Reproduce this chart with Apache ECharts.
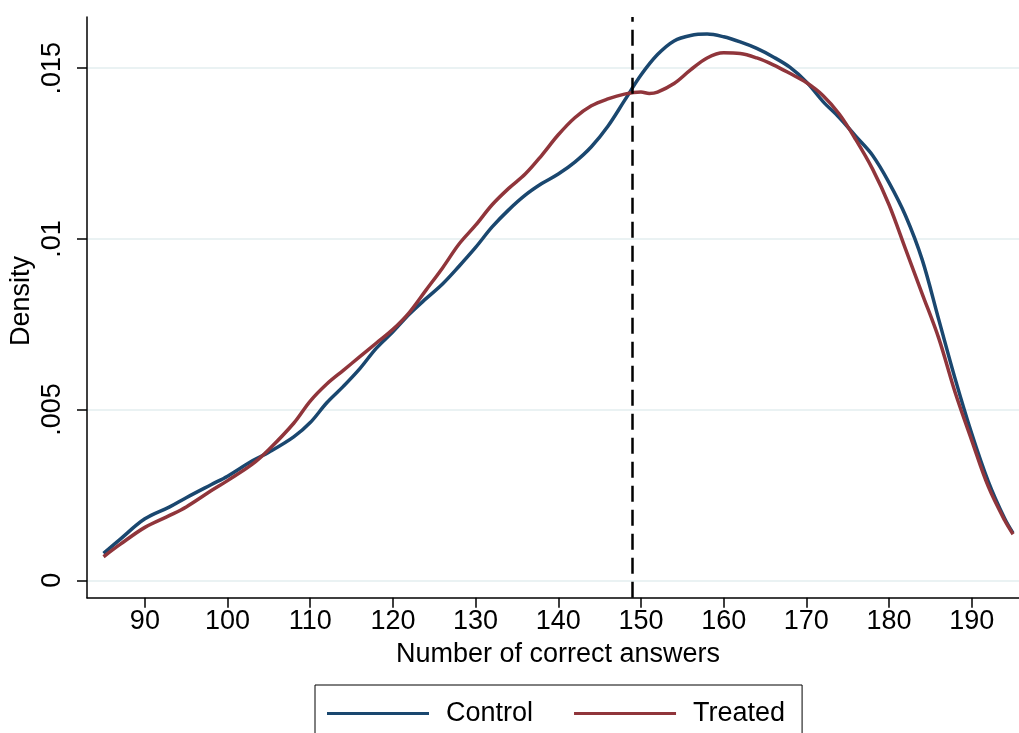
<!DOCTYPE html>
<html>
<head>
<meta charset="utf-8">
<script src="https://cdn.jsdelivr.net/npm/echarts@6/dist/echarts.min.js"></script>
<style>
html,body{margin:0;padding:0;background:#fff;}
#chart{width:1019px;height:733px;}
</style>
</head>
<body>
<div id="chart"></div>
<script>
const controlX = [85,87,90,93,95,98,100,103,105,108,110,112,114,116,118,120,122,124,126,128,130,132,134,136,138,140,142,144,146,148,150,152,154,156,158,160,162,164,166,168,170,172,174,176,178,180,182,184,186,188,190,192,194,195];
const controlY = [0.00079,0.00120,0.00180,0.00215,0.00242,0.00280,0.00305,0.00350,0.00375,0.00420,0.00462,0.00520,0.00568,0.00620,0.00680,0.00728,0.00780,0.00825,0.00868,0.00920,0.00975,0.01035,0.01085,0.01128,0.01162,0.01190,0.01225,0.01270,0.01330,0.01405,0.01480,0.01540,0.01580,0.01596,0.01600,0.01592,0.01577,0.01558,0.01533,0.01503,0.01460,0.01403,0.01355,0.01300,0.01245,0.01165,0.01068,0.00940,0.00765,0.00590,0.00430,0.00290,0.00180,0.00138];
const treatedX = [85,87,90,93,95,98,100,103,105,108,110,112,114,116,118,120,122,124,126,128,130,132,134,136,138,140,142,144,146,148,150,151,152,154,156,158,160,162,164,166,168,170,172,174,176,178,180,182,184,186,188,190,192,194,195];
const treatedY = [0.00069,0.00105,0.00155,0.00190,0.00215,0.00262,0.00292,0.00340,0.00383,0.00460,0.00525,0.00575,0.00615,0.00655,0.00695,0.00735,0.00785,0.00850,0.00915,0.00985,0.01040,0.01100,0.01148,0.01190,0.01245,0.01305,0.01355,0.01390,0.01410,0.01424,0.01430,0.01426,0.01430,0.01455,0.01495,0.01530,0.01545,0.01543,0.01530,0.01510,0.01485,0.01458,0.01420,0.01365,0.01290,0.01205,0.01100,0.00970,0.00840,0.00710,0.00550,0.00410,0.00275,0.00175,0.00135];
const xTicks = [90,100,110,120,130,140,150,160,170,180,190];
const yTicks = [0,0.005,0.01,0.015];
const yTickLabels = ['0','.005','.01','.015'];
const cutoff = 149;
const seriesNames = ['Control','Treated'];
const xTitle = 'Number of correct answers';
const yTitle = 'Density';

const FONT = 'Liberation Sans, Arial, Helvetica, sans-serif';
const FS = 27;
const chart = echarts.init(document.getElementById('chart'), null, {renderer:'canvas'});
const zip = (xs, ys) => xs.map((x,i)=>[x, ys[i]]);
chart.setOption({
  animation:false,
  backgroundColor:'#fff',
  grid:{left:87, top:17, width:932, height:580.7, containLabel:false},
  xAxis:{
    type:'value', min:83, max:195.72,
    axisLine:{show:true, onZero:false, lineStyle:{color:'#000', width:1.5}},
    axisTick:{show:true, length:10, customValues:xTicks, lineStyle:{color:'#000', width:1.5}},
    axisLabel:{customValues:xTicks, margin:10, fontSize:FS, color:'#000', fontFamily:FONT},
    splitLine:{show:false}
  },
  yAxis:{
    type:'value', min:-0.00051, max:0.0165,
    axisLine:{show:true, onZero:false, lineStyle:{color:'#000', width:1.5}},
    axisTick:{show:true, length:10, customValues:yTicks, lineStyle:{color:'#000', width:1.5}},
    axisLabel:{customValues:yTicks, rotate:90, margin:21, fontSize:FS, color:'#000', fontFamily:FONT,
      formatter:(v)=>{const i=yTicks.findIndex(t=>Math.abs(t-v)<1e-9); return i>=0?yTickLabels[i]:'';}},
    splitLine:{show:true, lineStyle:{color:'#eaf2f3', width:2}}
  },
  legend:{
    left:315, top:685,
    data:seriesNames,
    icon:'rect', itemWidth:102, itemHeight:3, itemGap:41,
    padding:[15,17,30,12],
    borderColor:'#000', borderWidth:1, borderRadius:0,
    textStyle:{fontSize:FS, color:'#000', fontFamily:FONT, padding:[0,0,0,12]}
  },
  graphic:[
    {type:'text', x:558, y:655, style:{text:xTitle, fontSize:FS, fill:'#000', fontFamily:FONT, textAlign:'center', textVerticalAlign:'middle'}},
    {type:'text', x:22, y:301, rotation:Math.PI/2, style:{text:yTitle, fontSize:FS, fill:'#000', fontFamily:FONT, textAlign:'center', textVerticalAlign:'middle'}}
  ],
  series:[
    {name:seriesNames[0], type:'line', data:zip(controlX, controlY), showSymbol:false, smooth:0.35,
      lineStyle:{color:'#1a476f', width:3.5}, itemStyle:{color:'#1a476f'}, z:3,
      markLine:{silent:true, symbol:'none', label:{show:false},
        lineStyle:{color:'#000', width:2.5, type:[16,8]}, data:[{xAxis:cutoff}]}},
    {name:seriesNames[1], type:'line', data:zip(treatedX, treatedY), showSymbol:false, smooth:0.35,
      lineStyle:{color:'#90353b', width:3.5}, itemStyle:{color:'#90353b'}, z:4}
  ]
});
</script>
</body>
</html>
